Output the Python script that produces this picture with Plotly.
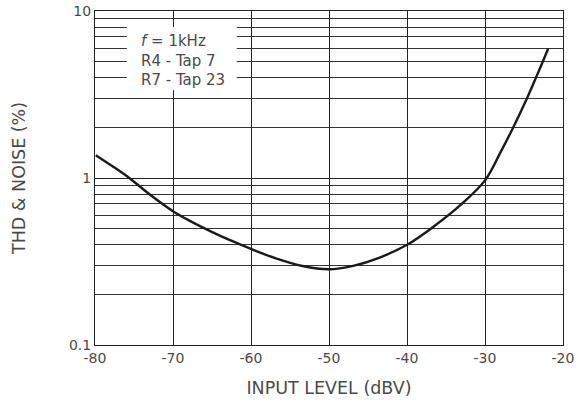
import plotly.graph_objects as go

input_level_dbv = [-79.9, -77.8, -75.6, -73.1, -70.0, -67.9, -64.9, -62.3, -60.0, -56.8, -53.4, -50.0,
                   -46.9, -43.5, -40.0, -36.7, -33.2, -30.0, -28.1, -26.4, -24.7, -23.2, -21.9]
thd_noise_pct = [1.37, 1.18, 1.0, 0.805, 0.633, 0.556, 0.473, 0.417, 0.376, 0.330, 0.297, 0.284,
                 0.298, 0.334, 0.398, 0.507, 0.685, 0.968, 1.40, 2.0, 2.94, 4.26, 5.94]

x_ticks = [-80, -70, -60, -50, -40, -30, -20]
x_tick_text = ["-80", "-70", "-60", "-50", "-40", "-30", "-20"]
y_ticks = [0.1, 1, 10]
y_tick_text = ["0.1", "1", "10"]
y_minor = [m * d for d in (0.1, 1) for m in range(2, 10)]

legend_text = "<i>f</i> = 1kHz<br>R4 - Tap 7<br>R7 - Tap 23"

font_family = "DejaVu Sans, Liberation Sans, sans-serif"
text_color = "#4a4a4a"

fig = go.Figure()
fig.add_trace(go.Scatter(
    x=input_level_dbv, y=thd_noise_pct, mode="lines",
    line=dict(color="#1a1a1a", width=2.4, shape="spline", smoothing=1.0),
    showlegend=False, hoverinfo="skip",
))

# white legend box
fig.add_shape(type="rect", xref="paper", yref="paper", x0=0.068, x1=0.303, y0=0.763, y1=0.952,
              fillcolor="white", line=dict(width=0), layer="above")
fig.add_annotation(
    xref="paper", yref="paper", x=0.094, y=0.852, xanchor="left", yanchor="middle",
    text=legend_text, showarrow=False, align="left",
    font=dict(family=font_family, size=15, color=text_color),
)

fig.update_layout(
    width=587, height=403,
    margin=dict(l=95, r=24, t=11, b=58, autoexpand=False),
    paper_bgcolor="white", plot_bgcolor="white",
    font=dict(family=font_family, size=14, color=text_color),
)
fig.update_xaxes(
    range=[-80, -20], tickvals=x_ticks, ticktext=x_tick_text, ticks="", showgrid=True,
    gridcolor="#222", gridwidth=1, zeroline=False, automargin=False,
    showline=True, linecolor="#222", linewidth=1, mirror=True,
    title=dict(text="INPUT LEVEL (dBV)", font=dict(size=17.5), standoff=16),
    tickfont=dict(size=14),
)
fig.update_yaxes(
    type="log", range=[-1, 1], tickvals=y_ticks, ticktext=y_tick_text, ticks="",
    showgrid=True, gridcolor="#222", gridwidth=1, zeroline=False, automargin=False,
    showline=True, linecolor="#222", linewidth=1, mirror=True,
    minor=dict(tickvals=y_minor, showgrid=True, gridcolor="#333", gridwidth=1, ticks=""),
    title=dict(text="THD & NOISE (%)", font=dict(size=17.5), standoff=38),
    tickfont=dict(size=14),
)

fig.write_html("out.html")
